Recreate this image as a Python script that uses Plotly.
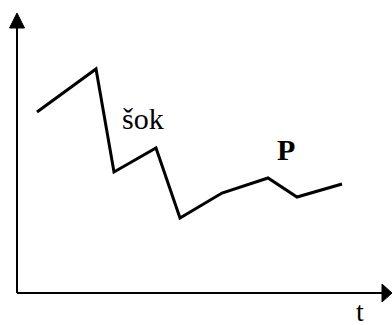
import plotly.graph_objects as go

# data (origin at axis intersection)
t = [20, 79, 97, 139, 163, 205, 251, 280, 325]
price = [181, 224, 121, 145, 75, 100, 115, 96, 109]

x_label = "t"
shock_label = "šok"
p_label = "<b>P</b>"

fig = go.Figure()
fig.add_trace(go.Scatter(x=t, y=price, mode="lines",
                         line=dict(color="black", width=3),
                         hoverinfo="skip", showlegend=False))

# axes lines
fig.add_shape(type="line", x0=0, y0=0, x1=366, y1=0, line=dict(color="black", width=2))
fig.add_shape(type="line", x0=0, y0=0, x1=0, y1=266, line=dict(color="black", width=2))
# arrowheads
fig.add_shape(type="path", path="M 365,-9 L 375,0 L 365,9 Z",
              fillcolor="black", line=dict(color="black", width=1))
fig.add_shape(type="path", path="M -7.5,265 L 0,280 L 7.5,265 Z",
              fillcolor="black", line=dict(color="black", width=1))

font = dict(family="Times New Roman, Liberation Serif, serif", size=30, color="black")
fig.add_annotation(x=126, y=175, text=shock_label, showarrow=False, font=font)
fig.add_annotation(x=269, y=144, text=p_label, showarrow=False, font=font)
fig.add_annotation(x=343, y=-18, text=x_label, showarrow=False,
                   font=dict(family="Times New Roman, Liberation Serif, serif", size=28, color="black"))

fig.update_layout(
    width=392, height=325,
    margin=dict(l=0, r=0, t=0, b=0),
    paper_bgcolor="white", plot_bgcolor="white",
    xaxis=dict(range=[-17, 375], visible=False, fixedrange=True),
    yaxis=dict(range=[-32, 293], visible=False, fixedrange=True),
)

fig.write_html("out.html", config={"displayModeBar": False},
               post_script="document.body.style.margin='0';document.body.style.overflow='hidden';")
